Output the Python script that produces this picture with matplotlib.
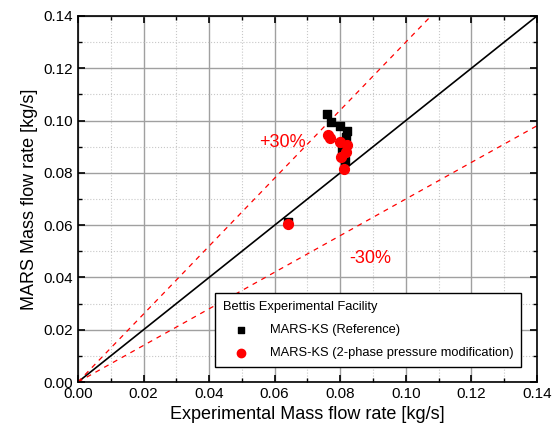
import matplotlib
matplotlib.use('Agg')
import matplotlib.pyplot as plt
import numpy as np
from matplotlib.ticker import MultipleLocator

plt.rcParams['font.family'] = ['Liberation Sans', 'DejaVu Sans']

# MARS-KS (Reference)
ref_exp = [0.0761, 0.0772, 0.0799, 0.0821, 0.0817, 0.0804, 0.0814, 0.0641]
ref_mars = [0.1024, 0.0993, 0.0980, 0.0961, 0.0938, 0.0884, 0.0845, 0.0613]

# MARS-KS (2-phase pressure modification)
mod_exp = [0.0763, 0.0770, 0.0799, 0.0822, 0.0817, 0.0802, 0.0811, 0.0641]
mod_mars = [0.0946, 0.0935, 0.0917, 0.0907, 0.0881, 0.0862, 0.0815, 0.0604]

diag = np.array([0.0, 0.14])

fig = plt.figure(figsize=(5.57, 4.44), dpi=100)
ax = fig.add_axes([0.140, 0.1396, 0.824, 0.8244])

ax.plot(diag, diag, color='black', lw=1.2, zorder=2)
ax.plot(diag, 1.3 * diag, color='red', lw=0.9, ls=(0, (4, 4)), zorder=2)
ax.plot(diag, 0.7 * diag, color='red', lw=0.9, ls=(0, (4, 4)), zorder=2)

ax.scatter(ref_exp, ref_mars, marker='s', s=34, color='black', zorder=3,
           label='MARS-KS (Reference)')
ax.scatter(mod_exp, mod_mars, marker='o', s=50, color='red', zorder=4,
           label='MARS-KS (2-phase pressure modification)')

ax.text(0.0625, 0.0918, '+30%', color='red', fontsize=13, ha='center', va='center')
ax.text(0.0891, 0.0474, '-30%', color='red', fontsize=13, ha='center', va='center')

ax.set_xlim(0, 0.14)
ax.set_ylim(0, 0.14)
ax.xaxis.set_major_locator(MultipleLocator(0.02))
ax.yaxis.set_major_locator(MultipleLocator(0.02))
ax.xaxis.set_minor_locator(MultipleLocator(0.01))
ax.yaxis.set_minor_locator(MultipleLocator(0.01))
ax.xaxis.set_major_formatter(plt.FormatStrFormatter('%.2f'))
ax.yaxis.set_major_formatter(plt.FormatStrFormatter('%.2f'))

ax.grid(which='major', color='#a0a0a0', lw=1.0, zorder=0)
ax.grid(which='minor', color='#c8c8c8', lw=0.8, ls=':', zorder=0)
ax.set_axisbelow(True)

ax.tick_params(which='both', direction='in', top=True, right=True, labelsize=11)
ax.tick_params(which='major', length=5, width=1.2)
ax.tick_params(which='minor', length=3, width=1.0)
for sp in ax.spines.values():
    sp.set_linewidth(1.2)

ax.set_xlabel('Experimental Mass flow rate [kg/s]', fontsize=13)
ax.set_ylabel('MARS Mass flow rate [kg/s]', fontsize=13)

leg = ax.legend(title='Bettis Experimental Facility', loc='lower right',
                bbox_to_anchor=(0.965, 0.041), borderaxespad=0,
                fontsize=9.3, title_fontsize=9.3, markerscale=0.85,
                fancybox=False, edgecolor='black', framealpha=1,
                handlelength=2.8, handletextpad=0.8, borderpad=0.6,
                labelspacing=0.85)
leg._legend_box.align = 'left'
leg.get_frame().set_linewidth(1.0)

fig.savefig('out.png', dpi=100)
